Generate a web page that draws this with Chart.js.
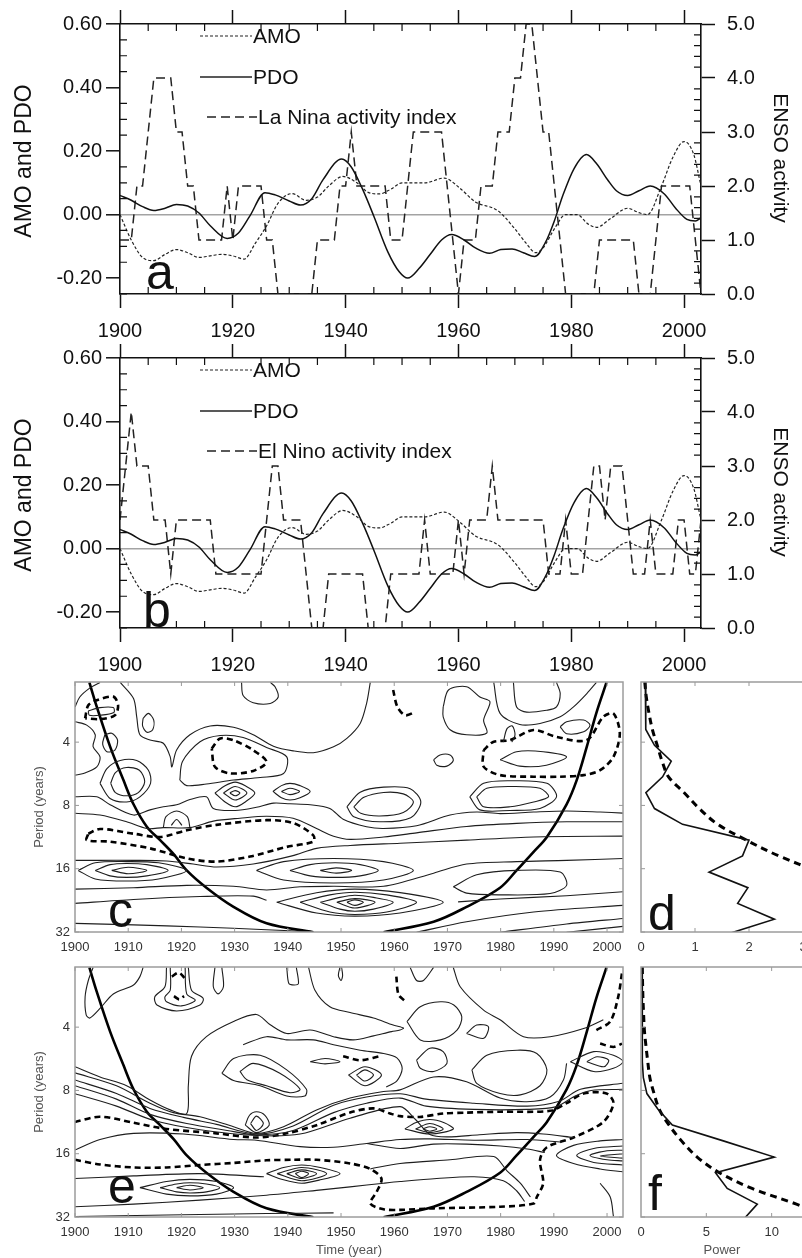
<!DOCTYPE html>
<html>
<head>
<meta charset="utf-8">
<script src="https://cdn.jsdelivr.net/npm/chart.js@4.4.1/dist/chart.umd.min.js"></script>
<style>
  html, body { margin: 0; padding: 0; background: #fff; overflow: hidden; }
  body { width: 802px; height: 1258px; position: relative; }
  canvas { position: absolute; }
</style>
</head>
<body>
<canvas id="panelA" width="802" height="345" style="left:0;top:0"></canvas>
<canvas id="panelB" width="802" height="350" style="left:0;top:334px"></canvas>
<canvas id="panelC" width="640" height="300" style="left:0;top:660px"></canvas>
<canvas id="panelD" width="200" height="300" style="left:626px;top:660px"></canvas>
<canvas id="panelE" width="640" height="313" style="left:0;top:945px"></canvas>
<canvas id="panelF" width="200" height="313" style="left:626px;top:945px"></canvas>
<script>
// ---- panels a and b: AMO, PDO and ENSO activity ----
const amoYears = [1900, 1902, 1904, 1906, 1908, 1910, 1912, 1914, 1916, 1918, 1920, 1922, 1924, 1926, 1928, 1930.5, 1933, 1935, 1937, 1939.5, 1942, 1944, 1946, 1948, 1950, 1954, 1957.5, 1960, 1963, 1967, 1970, 1972, 1973.7, 1975, 1977, 1979, 1981, 1983, 1984.5, 1987, 1990, 1992, 1993.5, 1996, 1998, 2000, 2001.7, 2003];
const amoValues = [0.0, -0.08, -0.135, -0.145, -0.125, -0.11, -0.12, -0.135, -0.13, -0.125, -0.13, -0.14, -0.09, -0.035, 0.035, 0.066, 0.045, 0.055, 0.09, 0.12, 0.10, 0.07, 0.065, 0.08, 0.10, 0.10, 0.115, 0.087, 0.04, 0.012, -0.045, -0.09, -0.12, -0.105, -0.045, 0.0, 0.0, -0.03, -0.04, -0.012, 0.02, 0.006, 0.0, 0.09, 0.18, 0.23, 0.19, 0.09];

const pdoYears = [1900, 1902, 1904, 1906, 1908, 1910, 1912, 1914, 1916, 1919, 1921, 1923, 1925.7, 1927.5, 1930, 1932, 1934, 1936, 1939.3, 1941, 1943, 1945, 1947.5, 1949.5, 1951, 1953, 1955, 1957, 1958.8, 1961, 1963, 1965.5, 1967.5, 1969.5, 1971.5, 1973.5, 1975.5, 1977, 1978.5, 1980.5, 1982.7, 1984.5, 1986.5, 1988, 1990, 1992, 1994, 1996.5, 1998.5, 2000.5, 2002, 2003];
const pdoValues = [0.06, 0.045, 0.025, 0.013, 0.02, 0.032, 0.027, 0.005, -0.035, -0.075, -0.058, -0.005, 0.069, 0.062, 0.043, 0.03, 0.05, 0.11, 0.175, 0.15, 0.08, -0.005, -0.118, -0.18, -0.2, -0.17, -0.125, -0.08, -0.063, -0.08, -0.105, -0.122, -0.11, -0.108, -0.12, -0.132, -0.085, -0.02, 0.06, 0.145, 0.189, 0.16, 0.108, 0.075, 0.06, 0.075, 0.09, 0.065, 0.02, -0.015, -0.02, -0.01];

const ensoYears = Array.from({ length: 104 }, (_, i) => 1900 + i);
const laNinaActivity = [1, 1, 1, 2, 2, 3, 4, 4, 4, 4, 3, 3, 2, 2, 1, 1, 1, 1, 1, 2, 1, 2, 2, 2, 2, 2, 1, 1, 0, 0, 0, 0, 0, 0, 0, 1, 1, 1, 1, 2, 2, 3, 2, 2, 2, 2, 2, 2, 1, 1, 1, 2, 3, 3, 3, 3, 3, 3, 2, 1, 0, 1, 1, 1, 2, 2, 2, 3, 3, 3, 4, 4, 5, 5, 4, 3, 3, 2, 1, 0, 0, 0, 0, 0, 0, 1, 1, 1, 1, 1, 1, 1, 0, 0, 0, 1, 2, 2, 2, 2, 2, 2, 1, 0];
const elNinoActivity = [2, 3, 4, 3, 3, 3, 2, 2, 2, 1, 2, 2, 2, 2, 2, 2, 2, 1, 1, 1, 1, 1, 1, 1, 1, 1, 2, 3, 3, 2, 2, 2, 2, 1, 0, 0, 0, 1, 1, 1, 1, 1, 1, 1, 0, 0, 0, 0, 1, 1, 1, 1, 1, 1, 2, 1, 1, 1, 1, 1, 2, 1, 2, 2, 2, 2, 3, 2, 2, 2, 2, 2, 2, 2, 2, 2, 1, 1, 1, 2, 1, 1, 1, 2, 3, 3, 2, 3, 3, 3, 2, 1, 1, 1, 2, 1, 1, 1, 1, 2, 2, 1, 1, 2];

const yearTicks = [1900, 1920, 1940, 1960, 1980, 2000];
const oscillationTicks = [-0.2, 0, 0.2, 0.4, 0.6];
const ensoTicks = [0, 1, 2, 3, 4, 5];

// ---- panels c to f: wavelet spectra, points are [year, period] ----
const decadeTicks = [1900, 1910, 1920, 1930, 1940, 1950, 1960, 1970, 1980, 1990, 2000];
const periodTicks = [4, 8, 16, 32];
const powerTicksD = [0, 1, 2, 3];
const powerTicksF = [0, 5, 10];

const coiLeft = [[1902.7, 2.08], [1904.1, 2.72], [1906.6, 4.2], [1909.1, 6.06], [1911, 7.9], [1913.5, 10.1], [1916, 11.7], [1918.5, 13.6], [1921, 16.3], [1924.7, 19.7], [1929.8, 24.3], [1936, 29.1], [1944.8, 32.1]];
const coiRight = [[1958, 32.1], [1967.4, 28.6], [1973.6, 24.3], [1979.9, 19.7], [1983, 16.3], [1986.2, 13.3], [1988.7, 11.3], [1992.4, 7.9], [1994.3, 6.06], [1996.2, 4.2], [1998, 2.9], [1999.9, 2.08]];

const cContours = [
  [[1904.7, 2.08], [1902.7, 2.22], [1900.9, 2.44], [1900, 2.72]],
  [[1902.5, 2.84], [1904.7, 2.74], [1907.2, 2.74], [1907.3, 2.89], [1904.7, 2.98], [1902.7, 2.98], [1902.5, 2.84]],
  [[1905.6, 3.69], [1906.9, 3.63], [1908, 3.91], [1907.5, 4.36], [1906, 4.44], [1905.2, 4.09], [1905.6, 3.69]],
  [[1900, 3.2], [1902.2, 3.32], [1903.8, 3.69], [1903.4, 4.2], [1904.7, 4.7], [1904.1, 5.25], [1901.6, 5.64], [1900, 5.74]],
  [[1904.7, 6.28], [1906, 5.34], [1908.5, 4.89], [1911.6, 4.89], [1913.8, 5.44], [1914.2, 6.28], [1912.2, 7.28], [1909.7, 7.7], [1906.6, 7.41], [1904.7, 6.28]],
  [[1906.7, 6.28], [1907.6, 5.58], [1909.7, 5.28], [1912.1, 5.44], [1913.1, 6.17], [1911.9, 6.95], [1909.7, 7.2], [1907.6, 6.95], [1906.7, 6.28]],
  [[1908.5, 2.08], [1911, 2.48], [1911.6, 3.03], [1912.2, 3.69], [1914.1, 3.91], [1916.6, 4.05], [1917.9, 4.7], [1918.2, 5.25], [1919.1, 4.36], [1921.6, 3.69], [1925.4, 3.35], [1929.8, 3.4], [1933.5, 3.69], [1937.3, 4.18], [1941, 4.4], [1944.8, 4.49], [1948.6, 4.21], [1951.1, 3.84], [1953.6, 3.26], [1954.8, 2.62], [1955.5, 2.08]],
  [[1912.8, 3.08], [1913.8, 2.92], [1914.8, 3.14], [1914.6, 3.49], [1913.5, 3.59], [1912.7, 3.35], [1912.8, 3.08]],
  [[1931.3, 2.08], [1931.6, 2.4], [1933.5, 2.6], [1936.7, 2.62], [1938.2, 2.44], [1937.6, 2.18], [1936.7, 2.08]],
  [[1919.7, 6.06], [1920.2, 4.94], [1923.5, 3.98], [1927.3, 3.72], [1931.6, 3.8], [1936, 4.24], [1939.8, 4.7], [1939.2, 5.64], [1934.8, 5.89], [1929.8, 6.06], [1924.7, 6.33], [1921, 6.44], [1919.7, 6.06]],
  [[1900, 7.28], [1904.1, 7.28], [1906.6, 7.94], [1911, 8.89], [1914.1, 8.4], [1916.6, 8.12], [1919.1, 7.94], [1921.6, 7.5], [1924.7, 7.28], [1926, 8.27], [1930.1, 8.45], [1934.1, 8.16], [1937.3, 7.8], [1940.4, 7.86], [1944.2, 7.94], [1947.9, 8.27], [1950.4, 9.3], [1954.8, 10.1], [1958, 10.3], [1964.2, 10.0], [1970.5, 8.89], [1975.5, 8.6], [1979.9, 8.75], [1986.2, 8.6], [1992.4, 8.5], [1998.7, 8.6], [2003, 8.7]],
  [[1926.3, 6.98], [1928.2, 6.45], [1930.1, 6.2], [1932, 6.45], [1933.8, 6.98], [1932, 7.7], [1930.1, 8.12], [1928.2, 7.7], [1926.3, 6.98]],
  [[1927.9, 6.98], [1930.1, 6.5], [1932.3, 6.98], [1930.1, 7.54], [1927.9, 6.98]],
  [[1929.1, 6.98], [1930.1, 6.8], [1931, 6.98], [1930.1, 7.2], [1929.1, 6.98]],
  [[1937.2, 6.86], [1938.8, 6.44], [1940.4, 6.28], [1942.3, 6.44], [1944.2, 6.86], [1942.3, 7.35], [1940.4, 7.54], [1938.8, 7.35], [1937.2, 6.86]],
  [[1938.8, 6.86], [1940.4, 6.63], [1942.2, 6.86], [1940.4, 7.11], [1938.8, 6.86]],
  [[1916.6, 10.2], [1917.1, 9.05], [1919.1, 8.5], [1921.1, 9.05], [1921.6, 10.2]],
  [[1918.1, 9.95], [1919.1, 9.33], [1920.1, 9.95]],
  [[1900, 8.72], [1904.7, 8.89], [1909.7, 9.57], [1913.5, 10.3], [1916.6, 10.2], [1921.6, 10.2], [1926, 9.5], [1931, 9.2], [1936, 9.0], [1941, 9.2], [1945.4, 10.3], [1948.6, 11.2], [1951.7, 11.6], [1958, 11.3], [1964.2, 10.8], [1973.6, 10.07], [1983, 9.74], [1992.4, 9.57], [2003, 9.57]],
  [[1951.1, 8.12], [1953.6, 6.92], [1958, 6.55], [1963, 6.66], [1965, 7.7], [1963.1, 9.15], [1957.3, 9.57], [1952.4, 9.05], [1951.1, 8.12]],
  [[1952.4, 8.12], [1954.3, 7.32], [1958, 6.94], [1961.7, 7.05], [1963.6, 7.7], [1961.7, 8.65], [1957.3, 8.98], [1953.7, 8.72], [1952.4, 8.12]],
  [[1900.6, 16.3], [1903.8, 15.0], [1909.7, 14.8], [1915.7, 15.0], [1921, 16.3], [1915.7, 17.9], [1909.7, 18.3], [1903.8, 17.9], [1900.6, 16.3]],
  [[1903.8, 16.3], [1906.6, 15.3], [1909.7, 15.1], [1913.5, 15.3], [1917.5, 16.3], [1913.5, 17.3], [1909.7, 17.6], [1906.6, 17.3], [1903.8, 16.3]],
  [[1906.9, 16.3], [1910, 15.75], [1913.5, 16.3], [1910, 16.9], [1906.9, 16.3]],
  [[1900, 14.6], [1904.7, 14.6], [1911, 14.6], [1917.2, 14.7], [1922.2, 15.2], [1926.6, 15.7], [1933.5, 15.2], [1940.8, 13.9], [1945.4, 12.8], [1951.7, 12.4], [1961.1, 12.1], [1973.6, 11.7], [1986.2, 11.3], [2003, 11.2]],
  [[1934.1, 16.3], [1939.2, 14.8], [1948.6, 14.3], [1958, 14.8], [1963.6, 16.3], [1958, 18.1], [1948.6, 18.7], [1939.2, 18.1], [1934.1, 16.3]],
  [[1940.4, 16.3], [1944.2, 15.3], [1948.9, 15.0], [1953.6, 15.3], [1957, 16.3], [1953.6, 17.3], [1948.9, 17.6], [1944.2, 17.3], [1940.4, 16.3]],
  [[1946.1, 16.3], [1949.1, 15.85], [1952, 16.3], [1949.1, 16.8], [1946.1, 16.3]],
  [[1900, 20.0], [1911, 19.7], [1921, 19.2], [1929.8, 19.4], [1936, 20.2], [1942.3, 19.5], [1948.6, 19.4], [1958, 19.4], [1967.4, 16.8], [1973.6, 15.2], [1983, 14.8], [1992.4, 14.6], [2003, 14.3]],
  [[1937.9, 23.1], [1945.4, 20.8], [1952.6, 20.0], [1961.1, 20.8], [1969.2, 23.1], [1961.1, 26.0], [1952.6, 26.9], [1945.4, 26.0], [1937.9, 23.1]],
  [[1942.3, 23.1], [1947.9, 21.3], [1952.6, 20.7], [1958.6, 21.3], [1964.2, 23.1], [1958.6, 25.7], [1952.6, 26.4], [1947.9, 25.7], [1942.3, 23.1]],
  [[1946.1, 23.1], [1949.8, 21.9], [1952.6, 21.4], [1956.1, 21.9], [1959.8, 23.1], [1956.1, 24.9], [1952.6, 25.5], [1949.8, 24.9], [1946.1, 23.1]],
  [[1949.2, 23.1], [1952.6, 22.2], [1956.4, 23.1], [1952.6, 24.6], [1949.2, 23.1]],
  [[1951.1, 23.1], [1952.6, 22.5], [1954.2, 23.1], [1952.6, 23.9], [1951.1, 23.1]],
  [[1900, 23.4], [1911, 22.4], [1923.5, 21.7], [1933.5, 21.6], [1936, 22.6]],
  [[1900, 29.1], [1911, 29.6], [1923.5, 30.3], [1936, 31.2], [1944.8, 32]],
  [[1969.2, 2.72], [1970.2, 2.26], [1973.6, 2.18], [1976.1, 2.44], [1978, 2.57], [1976.8, 3.14], [1977.4, 3.62], [1973.6, 3.69], [1970.5, 3.49], [1969.2, 3.03], [1969.2, 2.72]],
  [[1980.5, 4.0], [1981.2, 3.45], [1982.2, 3.35], [1982.7, 3.7], [1982.1, 4.0]],
  [[1982.4, 2.08], [1983, 2.72], [1984.9, 2.88], [1988.7, 2.82], [1990.5, 2.72], [1991.2, 2.35], [1990.5, 2.08]],
  [[1991.2, 3.38], [1992.4, 3.2], [1995.6, 3.14], [1996.8, 3.32], [1995.6, 3.57], [1992.4, 3.65], [1991.2, 3.38]],
  [[1978.7, 2.08], [1979.9, 2.92], [1983.6, 3.3], [1987.4, 3.26], [1991.2, 3.03], [1993.7, 2.72], [1996.2, 2.35], [1998, 2.08]],
  [[1979.9, 4.85], [1983, 4.44], [1988, 4.44], [1992.4, 4.7], [1988.6, 5.15], [1983.6, 5.2], [1979.9, 4.85]],
  [[1967.4, 4.85], [1968.6, 4.6], [1970.5, 4.6], [1971.1, 4.89], [1969.9, 5.2], [1968, 5.15], [1967.4, 4.85]],
  [[1975.5, 7.28], [1977.4, 6.63], [1981.8, 6.5], [1987.4, 6.63], [1989, 7.28], [1986.2, 7.7], [1981.8, 8.12], [1976.8, 8.12], [1975.5, 7.28]],
  [[1974.2, 7.28], [1976.8, 6.28], [1981.8, 6.11], [1988.7, 6.28], [1990.5, 7.28], [1987.4, 8.27], [1981.8, 8.45], [1976.1, 8.4], [1974.2, 7.28]],
  [[1971.1, 19.5], [1975.5, 17.1], [1983, 16.3], [1991.2, 16.6], [1992.4, 19.2], [1989.3, 21.0], [1979.9, 21.3], [1973.6, 20.9], [1971.1, 19.5]],
  [[1964.2, 32.1], [1973.6, 28.6], [1986.2, 25.7], [2003, 23.9]],
  [[1979.9, 32.1], [1992.4, 29.3], [2003, 27.6]],
  [[1992.4, 32.1], [2003, 30.1]],
  [[1972, 23.0], [1979.9, 22.3], [1992.4, 21.5], [2003, 20.6]]
];

const cSignificant = [
  [[1901.9, 3.08], [1902.5, 2.67], [1904.1, 2.53], [1907.2, 2.43], [1908.1, 2.67], [1907.5, 2.98], [1904.7, 3.11], [1901.9, 3.08]],
  [[1925.7, 4.29], [1927.3, 3.84], [1929.8, 3.92], [1933.5, 4.37], [1936, 4.97], [1933.5, 5.48], [1929.1, 5.63], [1926.3, 5.24], [1925.7, 4.29]],
  [[1902.5, 10.9], [1904.7, 10.35], [1911, 10.9], [1916, 11.3], [1921, 10.5], [1926.6, 9.9], [1936, 9.4], [1941, 9.7], [1944.8, 11.1], [1944.8, 11.9], [1939.8, 12.6], [1932.9, 14.0], [1926.6, 14.8], [1921, 14.3], [1914.1, 12.8], [1906.6, 11.9], [1902.2, 11.7], [1902.5, 10.9]],
  [[1959.8, 2.26], [1960.6, 2.72], [1962.1, 2.98], [1964, 2.87]],
  [[1976.8, 4.37], [1978.6, 3.99], [1981.8, 3.91], [1986.2, 3.5], [1990.5, 3.78], [1996.2, 3.91], [1999.3, 3.03], [2001.2, 2.92], [2002.4, 3.64], [2001.2, 4.7], [1998.7, 5.44], [1995.6, 5.74], [1991.2, 5.84], [1986.2, 5.84], [1979.9, 5.74], [1976.8, 5.23], [1976.8, 4.37]]
];

const eContours = [
  [[1903.4, 2.08], [1902.5, 2.4], [1901.9, 2.87], [1902.1, 3.5], [1902.8, 3.62], [1904.7, 3.26], [1907.2, 2.78], [1911, 2.52], [1912.2, 2.3], [1912.8, 2.08]],
  [[1917.2, 2.08], [1916.9, 2.57], [1915, 2.87], [1915.4, 3.14], [1919.1, 3.35], [1923.5, 3.14], [1924.1, 2.92], [1921.9, 2.67], [1921.3, 2.08]],
  [[1917.9, 2.08], [1917.9, 2.67], [1916.9, 2.87], [1917.2, 3.03], [1920, 3.17], [1922.6, 2.98], [1921, 2.78], [1920.7, 2.08]],
  [[1926.3, 2.08], [1926, 2.57], [1926.9, 2.78], [1927.9, 2.57], [1927.6, 2.08]],
  [[1939.8, 2.08], [1940.2, 2.48], [1941.2, 2.52], [1942, 2.48], [1941.6, 2.08]],
  [[1943.9, 2.08], [1945.1, 2.67], [1947.9, 3.2], [1951.7, 3.41], [1956.1, 3.62], [1959.8, 3.91], [1961.1, 3.98], [1961.8, 4.05]],
  [[1949.8, 2.08], [1949.5, 2.27], [1950, 2.4], [1950.3, 2.27], [1950.1, 2.08]],
  [[1900, 6.17], [1904.7, 6.9], [1909.7, 7.6], [1914.1, 8.89], [1917.9, 9.9], [1921, 10.3], [1921.3, 7.6], [1921.9, 5.5], [1924.7, 4.44], [1929.8, 3.76], [1934.1, 3.48], [1936.7, 3.9], [1939.8, 4.29], [1944.2, 4.13], [1948.6, 4.44], [1952.3, 4.6], [1956.1, 4.4], [1959.5, 4.2], [1961.1, 4.13], [1961.8, 4.05]],
  [[1927.6, 6.63], [1929.8, 5.64], [1934.8, 5.44], [1939.8, 6.39], [1943.5, 7.9], [1943.2, 8.5], [1939.8, 8.5], [1934.8, 7.6], [1929.8, 7.17], [1927.6, 6.63]],
  [[1931, 6.5], [1933.5, 5.95], [1938.5, 6.63], [1942.3, 7.9], [1940.4, 8.2], [1936, 7.6], [1932.3, 7.11], [1931, 6.5]],
  [[1931.6, 4.85], [1936, 4.44], [1939.8, 4.6], [1944.8, 4.6], [1948.6, 4.85], [1953.6, 5.15], [1958, 5.34], [1960.5, 5.6], [1961.5, 6.3], [1960.5, 7.2], [1958.5, 7.7]],
  [[1944.2, 5.84], [1947, 5.64], [1949.8, 5.84], [1947, 5.98], [1944.2, 5.84]],
  [[1951.4, 6.76], [1954.5, 6.17], [1957.6, 6.76], [1954.5, 7.6], [1951.4, 6.76]],
  [[1952.9, 6.76], [1954.5, 6.39], [1956.1, 6.76], [1954.5, 7.22], [1952.9, 6.76]],
  [[1900, 6.6], [1907.8, 7.6], [1914.1, 9.2], [1918.5, 10.2], [1923.5, 10.67], [1929.8, 11.9], [1934.1, 12.8], [1939.2, 11.9], [1945.4, 9.9], [1951.7, 8.7], [1958, 8.1], [1961.1, 7.95], [1967.4, 6.9], [1973.6, 7.28], [1979.9, 8.7], [1984.9, 9.05], [1989.3, 8.6], [1991.8, 7.14], [1992.4, 5.95]],
  [[1900, 7.14], [1907.8, 8.27], [1914.1, 9.74], [1920.4, 10.75], [1926.6, 11.6], [1934.1, 12.9], [1941, 11.8], [1948.6, 9.4], [1954.8, 8.6], [1961.1, 8.3], [1966, 8.8], [1975, 9.2], [1985, 9.5], [1991, 9.0], [1995, 7.9], [2003, 7.4]],
  [[1900, 7.6], [1907.8, 8.8], [1914.1, 10.4], [1921, 11.5], [1928.6, 12.4], [1934.1, 13.0], [1941, 12.4], [1948.6, 10.2], [1954.8, 9.2], [1961.1, 8.7], [1966, 9.5], [1975, 9.85], [1985, 9.85], [1990.5, 9.55], [1994, 8.5], [1997, 8.0], [2003, 7.9]],
  [[1900, 8.3], [1907.8, 9.5], [1914.7, 11.1], [1923.5, 12.3], [1934.1, 13.1], [1942.3, 12.9], [1951.7, 10.85], [1961.1, 9.55], [1964, 11.0], [1966.7, 12.95], [1970, 13.3], [1976, 13.0], [1983, 12.7], [1988, 12.9], [1993.7, 13.4]],
  [[1932, 11.7], [1932.8, 10.5], [1934.1, 10.1], [1935.7, 10.5], [1936.5, 11.7], [1934.1, 12.7], [1932, 11.7]],
  [[1933, 11.5], [1934.1, 10.6], [1935.4, 11.5], [1934.1, 12.4], [1933, 11.5]],
  [[1900, 15.37], [1904.7, 13.7], [1911, 12.8], [1920.4, 12.9], [1929.8, 13.7], [1934.1, 13.8], [1942.3, 14.8], [1948.6, 14.9], [1954.8, 14.3], [1961.1, 13.7], [1966.7, 13.6], [1975, 13.8], [1985, 13.7], [1991.5, 14.1]],
  [[1912.2, 23.2], [1917.2, 21.7], [1921.6, 21.2], [1926.6, 21.7], [1929.8, 23.2], [1926.6, 24.9], [1921.6, 25.4], [1917.2, 24.9], [1912.2, 23.2]],
  [[1916, 23.2], [1919.1, 22.3], [1921.6, 22.0], [1924.7, 22.3], [1927.2, 23.2], [1924.7, 24.3], [1921.6, 24.6], [1919.1, 24.3], [1916, 23.2]],
  [[1919.1, 23.2], [1921.6, 22.6], [1924.1, 23.2], [1921.6, 23.8], [1919.1, 23.2]],
  [[1900, 21.0], [1911, 20.4], [1923.5, 19.9], [1935.5, 20.6]],
  [[1900, 28.6], [1911, 27.8], [1923.5, 26.6], [1936, 25.2], [1945.4, 23.9], [1951.7, 23.0], [1958, 22.1], [1961.1, 21.7], [1968, 21.0], [1975, 20.6], [1980.5, 21.5], [1983, 24.0], [1984.5, 27.0]],
  [[1900, 31.8], [1917.2, 31.3], [1936, 30.8], [1948.6, 30.6]],
  [[1936, 19.9], [1939.2, 18.6], [1942.6, 18.1], [1946.1, 18.6], [1949.8, 19.9], [1946.1, 21.3], [1942.6, 22.1], [1939.2, 21.3], [1936, 19.9]],
  [[1938, 19.9], [1942.6, 18.6], [1947.3, 19.9], [1942.6, 21.5], [1938, 19.9]],
  [[1939.8, 19.9], [1942.6, 19.1], [1945.4, 19.9], [1942.6, 21.0], [1939.8, 19.9]],
  [[1941.4, 19.9], [1942.6, 19.4], [1943.9, 19.9], [1942.6, 20.8], [1941.4, 19.9]],
  [[1963, 2.08], [1964.2, 2.4], [1965.5, 2.4], [1967.4, 2.08]],
  [[1971.1, 2.08], [1972.4, 2.57], [1976.8, 3.32], [1979.9, 3.69], [1984.3, 4.44], [1989.3, 4.44], [1995.6, 4.06], [1999.3, 3.69]],
  [[1962.4, 3.76], [1964.9, 3.2], [1968.7, 3.03], [1971.2, 3.14], [1972.7, 3.57], [1971.8, 4.13], [1968.7, 4.6], [1964.9, 4.6], [1962.4, 3.76]],
  [[1973.6, 4.29], [1975.5, 3.91], [1977.7, 3.98], [1976.8, 4.52], [1973.6, 4.29]],
  [[1964.2, 5.74], [1966.7, 5.04], [1969.2, 5.23], [1969.9, 5.95], [1967.4, 6.5], [1964.9, 6.28], [1964.2, 5.74]],
  [[1974.6, 6.39], [1977.4, 5.44], [1983.1, 5.15], [1986.8, 5.34], [1988.7, 6.39], [1987.4, 7.6], [1983.7, 8.4], [1979.9, 8.27], [1975.5, 7.4], [1974.6, 6.39]],
  [[1993.1, 5.84], [1997.5, 5.23], [2001.2, 5.44], [2003, 5.84], [2001.2, 6.28], [1997.5, 6.5], [1993.1, 5.84]],
  [[1996.2, 5.84], [1998.1, 5.53], [2000.3, 5.74], [1999.4, 6.17], [1996.2, 5.84]],
  [[1962, 12.2], [1964, 11.4], [1966.7, 11.0], [1969.4, 11.4], [1971.1, 12.2], [1966.7, 12.9], [1962, 12.2]],
  [[1964, 12.2], [1966.7, 11.5], [1969.2, 12.2], [1966.7, 12.7], [1964, 12.2]],
  [[1965.4, 12.2], [1966.7, 11.9], [1968, 12.2], [1966.7, 12.5], [1965.4, 12.2]],
  [[2003, 13.7], [1998.7, 13.9], [1993.7, 14.6], [1990.5, 16.3], [1993.7, 17.8], [1998.7, 18.9], [2003, 19.5]],
  [[2003, 14.7], [1997.5, 15.1], [1994.3, 16.3], [1997.5, 17.6], [2003, 18.1]],
  [[2003, 15.4], [2000, 15.5], [1996.8, 16.3], [2000, 17.1], [2003, 17.3]],
  [[2003, 16.0], [1998.7, 16.4], [2003, 16.8]],
  [[1954.8, 14.3], [1961.1, 15.1], [1967.4, 14.4], [1973.6, 14.4], [1980, 14.7], [1985, 15.2], [1988.3, 15.8]],
  [[1955.5, 18.9], [1961.1, 17.8], [1970.5, 17.1], [1978.7, 16.5], [1981.2, 19.3], [1983.7, 22.1], [1985.6, 25.7]],
  [[1998.7, 22.1], [2000.6, 25.7], [2001.2, 31.8]]
];

const eSignificant = [
  [[1900, 11.3], [1904.7, 10.67], [1911, 11.4], [1917.2, 12.2], [1926.6, 12.8], [1934.1, 13.4], [1939.8, 12.8], [1945.4, 11.7], [1951.7, 10.2], [1956.1, 9.74], [1959.2, 10.3], [1961.1, 10.6], [1964.8, 10.7], [1969.2, 10.3], [1973.6, 10.2], [1979.9, 10.1], [1989.3, 10.0], [1992.4, 9.2], [1995.6, 8.27], [1999.9, 8.27], [2001.2, 9.2], [1999.3, 11.3], [1993.7, 13.4], [1988.7, 14.9], [1987.4, 17.1], [1988, 22.1], [1986.8, 25.7], [1986.2, 27.6], [1979.9, 28.6], [1967.4, 29.1], [1961.1, 29.6], [1958, 29.4], [1955.5, 27.6], [1956.7, 24.3], [1957.6, 21.0], [1955.5, 18.9], [1951.7, 17.8], [1945.4, 17.1], [1941, 17.1], [1936, 17.2], [1929.8, 17.7], [1923.5, 18.1], [1917.2, 18.6], [1911, 18.6], [1904.7, 18.0], [1900, 17.1]],
  [[1998, 4.13], [2000.6, 3.76], [2002.1, 2.87], [2002.8, 2.22]],
  [[1998.7, 4.79], [2001.2, 4.97], [2002.8, 4.79]],
  [[1960.4, 2.3], [1960.8, 2.8], [1962, 3.0]],
  [[1950.4, 5.5], [1953.6, 5.75], [1957.3, 5.5]],
  [[1918.2, 2.3], [1919.5, 2.2], [1920.7, 2.35]],
  [[1918.6, 2.85], [1919.6, 2.95], [1920.5, 2.85]]
];

const spectrumPeriods = [2.07, 2.46, 2.93, 3.48, 4.14, 4.92, 5.85, 6.96, 8.28, 9.84, 11.7, 13.9, 16.6, 19.7, 23.4, 27.8, 33.1];
const globalPowerD = [0.08, 0.085, 0.09, 0.09, 0.25, 0.56, 0.40, 0.09, 0.25, 0.77, 2.0, 1.88, 1.26, 1.98, 1.79, 2.47, 1.54];
const significanceD = [0.07, 0.10, 0.15, 0.21, 0.30, 0.39, 0.51, 0.80, 1.08, 1.42, 1.95, 2.55, 3.3];
const globalPowerF = [0.08, 0.08, 0.08, 0.1, 0.1, 0.12, 0.12, 0.18, 0.45, 1.3, 2.4, 6.3, 10.2, 5.7, 6.6, 8.9, 7.8];
const significanceF = [0.1, 0.12, 0.15, 0.2, 0.26, 0.38, 0.52, 0.68, 1.0, 1.4, 2.15, 3.1, 4.3, 6.0, 8.5, 11.9, 15.0];

const FONT = '"Liberation Sans", Arial, Helvetica, sans-serif';
Chart.defaults.font.family = FONT;
Chart.defaults.color = "#111";

function toPoints(xs, ys) {
    return ys.map((y, i) => ({ x: xs[i], y: y }));
}

function pairsToPoints(pairs) {
    return pairs.map(p => ({ x: p[0], y: p[1] }));
}

function steps(start, end, step, skipEvery) {
    const values = [];
    for (let v = start; v <= end + 1e-9; v += step) {
        const r = Math.round(v * 1000) / 1000;
        if (skipEvery && Math.abs(r / skipEvery - Math.round(r / skipEvery)) < 1e-6) continue;
        values.push(r);
    }
    return values;
}

function fixedTicks(values) {
    return scale => { scale.ticks = values.map(v => ({ value: v })); };
}

const decorations = {
    id: "decorations",
    afterDraw(chart, args, opts) {
        const ctx = chart.ctx;
        const area = chart.chartArea;
        ctx.save();

        (opts.marks || []).forEach(mark => {
            const scale = chart.scales[mark.scale];
            ctx.strokeStyle = mark.color;
            ctx.lineWidth = mark.width;
            ctx.setLineDash([]);
            ctx.beginPath();
            mark.values.forEach(v => {
                const p = scale.getPixelForValue(v);
                if (mark.side === "top") { ctx.moveTo(p, area.top); ctx.lineTo(p, area.top + mark.length); }
                if (mark.side === "bottom") { ctx.moveTo(p, area.bottom); ctx.lineTo(p, area.bottom - mark.length); }
                if (mark.side === "left") { ctx.moveTo(area.left, p); ctx.lineTo(area.left + mark.length, p); }
                if (mark.side === "right") { ctx.moveTo(area.right, p); ctx.lineTo(area.right - mark.length, p); }
            });
            ctx.stroke();
        });

        if (opts.frame) {
            ctx.strokeStyle = opts.frame.color;
            ctx.lineWidth = opts.frame.width;
            ctx.setLineDash([]);
            ctx.strokeRect(area.left, area.top, area.right - area.left, area.bottom - area.top);
        }

        (opts.legend || []).forEach(item => {
            ctx.strokeStyle = "#222";
            ctx.lineWidth = item.width;
            ctx.setLineDash(item.dash);
            ctx.beginPath();
            ctx.moveTo(item.x1, item.y);
            ctx.lineTo(item.x2, item.y);
            ctx.stroke();
            ctx.setLineDash([]);
            ctx.fillStyle = "#111";
            ctx.font = "21px " + FONT;
            ctx.textAlign = "left";
            ctx.textBaseline = "middle";
            ctx.fillText(item.text, item.x2 + 1, item.y + 1);
        });

        (opts.texts || []).forEach(t => {
            ctx.save();
            ctx.translate(t.x, t.y);
            if (t.rotate) ctx.rotate(t.rotate);
            ctx.font = t.font;
            ctx.fillStyle = t.color || "#111";
            ctx.textAlign = t.align || "left";
            ctx.textBaseline = t.baseline || "alphabetic";
            ctx.fillText(t.text, 0, 0);
            ctx.restore();
        });

        ctx.restore();
    }
};
Chart.register(decorations);

const baseOptions = {
    responsive: false,
    animation: false,
    events: [],
    devicePixelRatio: 1
};

function crearPanelIndice(idCanvas, nombreIndice, valoresIndice, letra, letraX, letraY, bottomHeight) {
    const axisColor = "#111";
    new Chart(document.getElementById(idCanvas), {
        type: "line",
        data: {
            datasets: [
                {
                    label: "AMO",
                    yAxisID: "y",
                    data: toPoints(amoYears, amoValues),
                    borderColor: "#222",
                    borderWidth: 1.2,
                    borderDash: [3, 2],
                    pointRadius: 0,
                    cubicInterpolationMode: "monotone"
                },
                {
                    label: "PDO",
                    yAxisID: "y",
                    data: toPoints(pdoYears, pdoValues),
                    borderColor: "#111",
                    borderWidth: 1.5,
                    pointRadius: 0,
                    cubicInterpolationMode: "monotone"
                },
                {
                    label: nombreIndice,
                    yAxisID: "yR",
                    data: toPoints(ensoYears, valoresIndice),
                    borderColor: "#222",
                    borderWidth: 1.5,
                    borderDash: [9, 5],
                    pointRadius: 0,
                    tension: 0
                }
            ]
        },
        options: {
            ...baseOptions,
            layout: { padding: 0 },
            plugins: {
                legend: { display: false },
                tooltip: { enabled: false },
                decorations: {
                    marks: [
                        { scale: "x", side: "top", values: steps(1900, 2003, 5, 20), length: 7, color: axisColor, width: 1.2 },
                        { scale: "x", side: "bottom", values: steps(1900, 2003, 5, 20), length: 7, color: axisColor, width: 1.2 },
                        { scale: "y", side: "left", values: steps(-0.25, 0.6, 0.05, 0.2), length: 7, color: axisColor, width: 1.2 },
                        { scale: "yR", side: "right", values: steps(0, 5, 0.2, 1), length: 7, color: axisColor, width: 1.2 }
                    ],
                    legend: [
                        { x1: 200, x2: 252, y: 36, dash: [3, 2], width: 1.2, text: "AMO" },
                        { x1: 200, x2: 252, y: 77, dash: [], width: 1.5, text: "PDO" },
                        { x1: 207, x2: 257, y: 117, dash: [9, 5], width: 1.5, text: nombreIndice }
                    ],
                    texts: [
                        { text: letra, x: letraX, y: letraY, font: "50px " + FONT },
                        { text: "AMO and PDO", x: 25, y: 161, rotate: -Math.PI / 2, font: "23px " + FONT, align: "center", baseline: "middle" },
                        { text: "ENSO activity", x: 780, y: 158, rotate: Math.PI / 2, font: "21px " + FONT, align: "center", baseline: "middle" }
                    ]
                }
            },
            scales: {
                x: {
                    type: "linear",
                    position: "bottom",
                    min: 1900,
                    max: 2003,
                    afterBuildTicks: fixedTicks(yearTicks),
                    afterFit: scale => { scale.height = bottomHeight; },
                    ticks: { callback: v => String(v), font: { size: 20 }, color: "#111", padding: 11, maxRotation: 0 },
                    grid: { drawOnChartArea: false, drawTicks: true, tickLength: 14, tickColor: axisColor, tickWidth: 1.5, color: axisColor },
                    border: { display: true, color: axisColor, width: 1.6 }
                },
                xTop: {
                    type: "linear",
                    position: "top",
                    min: 1900,
                    max: 2003,
                    afterBuildTicks: fixedTicks(yearTicks),
                    afterFit: scale => { scale.height = 24; },
                    ticks: { display: false },
                    grid: { drawOnChartArea: false, drawTicks: true, tickLength: 14, tickColor: axisColor, tickWidth: 1.5, color: axisColor },
                    border: { display: true, color: axisColor, width: 1.6 }
                },
                y: {
                    type: "linear",
                    position: "left",
                    min: -0.25,
                    max: 0.6,
                    afterBuildTicks: fixedTicks(oscillationTicks),
                    afterFit: scale => { scale.width = 120; },
                    ticks: { callback: v => v.toFixed(2), font: { size: 20 }, color: "#111", padding: 4 },
                    grid: {
                        drawOnChartArea: true,
                        drawTicks: true,
                        tickLength: 14,
                        tickColor: axisColor,
                        tickWidth: 1.5,
                        lineWidth: 1.6,
                        color: c => (c.tick && Math.abs(c.tick.value) < 1e-9 ? "#a3a3a3" : "rgba(0,0,0,0)")
                    },
                    border: { display: true, color: axisColor, width: 1.6 }
                },
                yR: {
                    type: "linear",
                    position: "right",
                    min: 0,
                    max: 5,
                    afterBuildTicks: fixedTicks(ensoTicks),
                    afterFit: scale => { scale.width = 101; },
                    ticks: { callback: v => v.toFixed(1), font: { size: 20 }, color: "#111", padding: 12 },
                    grid: { drawOnChartArea: false, drawTicks: true, tickLength: 14, tickColor: axisColor, tickWidth: 1.5, color: axisColor },
                    border: { display: true, color: axisColor, width: 1.6 }
                }
            }
        }
    });
}

function contourSets(lines, style) {
    return lines.map(line => ({
        data: pairsToPoints(line),
        borderColor: style.color,
        borderWidth: style.width,
        borderDash: style.dash,
        tension: style.tension,
        pointRadius: 0,
        fill: false
    }));
}

function periodAxis(showLabels, title) {
    return {
        type: "logarithmic",
        reverse: true,
        min: 2.07,
        max: 32,
        afterBuildTicks: fixedTicks(periodTicks),
        afterFit: scale => { scale.width = showLabels ? 75 : 15; },
        ticks: { display: showLabels, callback: v => String(v), font: { size: 13 }, color: "#333", padding: 5 },
        grid: { display: false, drawTicks: false },
        border: { display: false },
        title: title
            ? { display: true, text: title, font: { size: 13 }, color: "#555", padding: { top: 32, bottom: 0 } }
            : { display: false }
    };
}

function crearPanelOndicula(idCanvas, contornos, significativos, letra, letraY, bottomHeight, conTitulo) {
    const datasets = [
        ...contourSets(contornos, { color: "#1e1e1e", width: 1.1, dash: [], tension: 0.3 }),
        ...contourSets(significativos, { color: "#000", width: 2.6, dash: [6, 4], tension: 0.3 }),
        ...contourSets([coiLeft, coiRight], { color: "#000", width: 2.6, dash: [], tension: 0.35 })
    ];

    new Chart(document.getElementById(idCanvas), {
        type: "line",
        data: { datasets: datasets },
        options: {
            ...baseOptions,
            layout: { padding: { top: 22, right: 17, left: 0, bottom: 0 } },
            plugins: {
                legend: { display: false },
                tooltip: { enabled: false },
                decorations: {
                    frame: { color: "#9c9c9c", width: 1.5 },
                    marks: [
                        { scale: "x", side: "top", values: decadeTicks, length: 4, color: "#999", width: 1 },
                        { scale: "x", side: "bottom", values: decadeTicks, length: 4, color: "#999", width: 1 },
                        { scale: "y", side: "left", values: periodTicks, length: 4, color: "#999", width: 1 },
                        { scale: "y", side: "right", values: periodTicks, length: 4, color: "#999", width: 1 }
                    ],
                    texts: [{ text: letra, x: 108, y: letraY, font: "50px " + FONT }]
                }
            },
            scales: {
                x: {
                    type: "linear",
                    min: 1900,
                    max: 2003,
                    afterBuildTicks: fixedTicks(decadeTicks),
                    afterFit: scale => { scale.height = bottomHeight; },
                    ticks: { callback: v => String(v), font: { size: 13 }, color: "#333", padding: 8, maxRotation: 0 },
                    grid: { display: false, drawTicks: false },
                    border: { display: false },
                    title: conTitulo
                        ? { display: true, text: "Time (year)", font: { size: 13 }, color: "#555", padding: { top: 0, bottom: 0 } }
                        : { display: false }
                },
                y: periodAxis(true, "Period (years)")
            }
        }
    });
}

function crearPanelEspectro(idCanvas, potencia, significancia, maxPotencia, ticksPotencia, letra, letraY, bottomHeight, conTitulo) {
    const minorPower = ticksPotencia.filter(v => v > 0);
    new Chart(document.getElementById(idCanvas), {
        type: "line",
        data: {
            datasets: [
                {
                    data: toPoints(potencia, spectrumPeriods),
                    borderColor: "#111",
                    borderWidth: 1.6,
                    pointRadius: 0,
                    tension: 0
                },
                {
                    data: toPoints(significancia, spectrumPeriods.slice(0, significancia.length)),
                    borderColor: "#000",
                    borderWidth: 3,
                    borderDash: [7, 5],
                    pointRadius: 0,
                    tension: 0.35
                }
            ]
        },
        options: {
            ...baseOptions,
            layout: { padding: { top: 22, right: 23, left: 0, bottom: 0 } },
            plugins: {
                legend: { display: false },
                tooltip: { enabled: false },
                decorations: {
                    frame: { color: "#9c9c9c", width: 1.5 },
                    marks: [
                        { scale: "x", side: "top", values: minorPower, length: 4, color: "#999", width: 1 },
                        { scale: "x", side: "bottom", values: minorPower, length: 4, color: "#999", width: 1 },
                        { scale: "y", side: "left", values: periodTicks, length: 4, color: "#999", width: 1 }
                    ],
                    texts: [{ text: letra, x: 22, y: letraY, font: "50px " + FONT }]
                }
            },
            scales: {
                x: {
                    type: "linear",
                    min: 0,
                    max: maxPotencia,
                    afterBuildTicks: fixedTicks(ticksPotencia),
                    afterFit: scale => { scale.height = bottomHeight; },
                    ticks: { callback: v => String(v), font: { size: 13 }, color: "#333", padding: 8, maxRotation: 0 },
                    grid: { display: false, drawTicks: false },
                    border: { display: false },
                    title: conTitulo
                        ? { display: true, text: "Power", font: { size: 13 }, color: "#555", padding: { top: 0, bottom: 0 } }
                        : { display: false }
                },
                y: periodAxis(false, null)
            }
        }
    });
}

crearPanelIndice("panelA", "La Nina activity index", laNinaActivity, "a", 146, 289, 51);
crearPanelIndice("panelB", "El Nino activity index", elNinoActivity, "b", 143, 293, 56);
crearPanelOndicula("panelC", cContours, cSignificant, "c", 267, 28, false);
crearPanelOndicula("panelE", eContours, eSignificant, "e", 258, 41, true);
crearPanelEspectro("panelD", globalPowerD, significanceD, 3, powerTicksD, "d", 270, 28, false);
crearPanelEspectro("panelF", globalPowerF, significanceF, 12.4, powerTicksF, "f", 265, 41, true);
</script>
</body>
</html>
